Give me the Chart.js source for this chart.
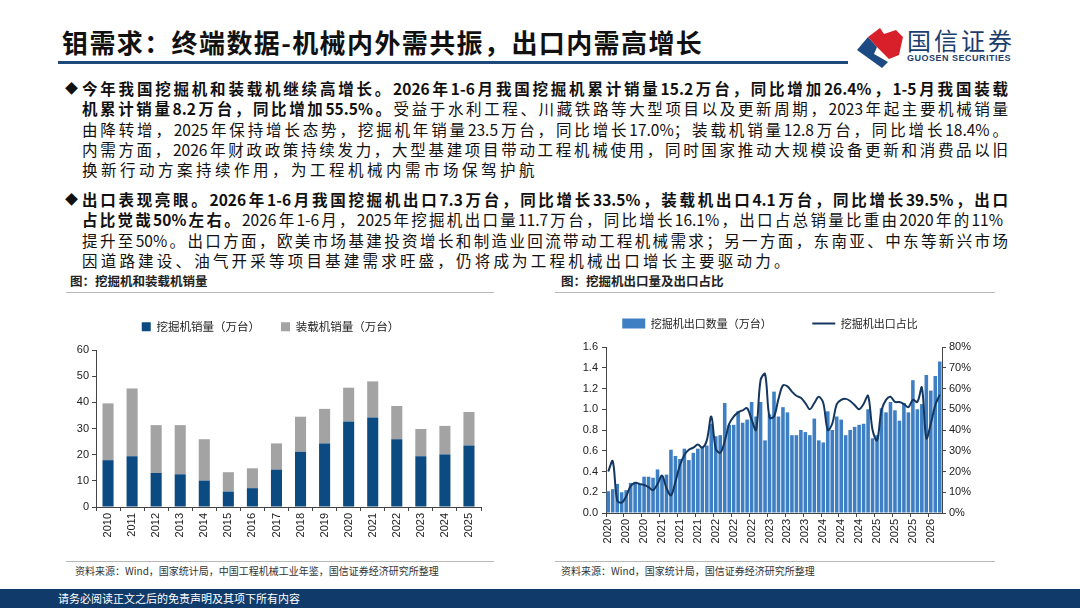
<!DOCTYPE html>
<html>
<head>
<meta charset="utf-8">
<script src="https://cdn.jsdelivr.net/npm/chart.js@4.4.1/dist/chart.umd.min.js"></script>
<style>
  html, body { margin: 0; padding: 0; background: #fff; }
  body { width: 1080px; height: 608px; position: relative; overflow: hidden;
         font-family: "Noto Sans CJK SC", "Noto Sans", sans-serif; color: #000; }
  .abs { position: absolute; }
  #title { left: 62px; top: 24px; font-size: 26px; font-weight: 700; letter-spacing: 1.4px; line-height: 36px; color: #111; }
  #rule { left: 58px; top: 61px; width: 790px; height: 3px; background: #1d4a7a; }
  #brand { left: 907px; top: 25px; font-size: 24px; color: #1c3d6e; line-height: 30px; letter-spacing: 3px; }
  #brandEn { left: 907px; top: 53px; font-size: 9px; font-weight: 700; color: #1c3d6e; letter-spacing: 0.5px; font-family: "Liberation Sans", sans-serif; }
  .ln { position: absolute; left: 82px; height: 20px; line-height: 20px; font-size: 15.5px; color: #111; }
  .full { width: 926px; text-align: justify; text-align-last: justify; }
  .part { letter-spacing: 3.5px; white-space: nowrap; }
  .bul { position: absolute; left: 65px; font-size: 13px; line-height: 20px; color: #111; }
  b { font-weight: 700; }
  .ctitle { font-size: 12.5px; font-weight: 700; color: #222; line-height: 16px; }
  .hr { height: 1px; background: #b8b8b8; }
  .src { font-size: 10px; color: #333; line-height: 14px; }
  #foot { left: 0; top: 589px; width: 1080px; height: 19px; background: #0f3a69; }
  #footTxt { left: 58px; top: 590px; font-size: 11px; color: #fff; line-height: 17px; }
  canvas { position: absolute; }
</style>
</head>
<body>
<div id="title" class="abs">钼需求：终端数据-机械内外需共振，出口内需高增长</div>
<div id="rule" class="abs"></div>
<svg class="abs" style="left:852px;top:24px" width="56" height="46" viewBox="852 24 56 46">
  <polygon points="857,50 868,37 877,47 874,54 888,62 882,68" fill="#1d4a82"/>
  <polygon points="868,37 880,28 884,34 896,30 903,37 899,55 889,59 877,47" fill="#d8202a"/>
</svg>
<div id="brand" class="abs">国信证券</div>
<div id="brandEn" class="abs">GUOSEN SECURITIES</div>

<div class="bul" style="top:78px">◆</div>
<div class="ln full" style="top:78px"><b>今年我国挖掘机和装载机继续高增长。2026年1-6月我国挖掘机累计销量15.2万台，同比增加26.4%，1-5月我国装载</b></div>
<div class="ln full" style="top:98px"><b>机累计销量8.2万台，同比增加55.5%。</b>受益于水利工程、川藏铁路等大型项目以及更新周期，2023年起主要机械销量</div>
<div class="ln full" style="top:119px">由降转增，2025年保持增长态势，挖掘机年销量23.5万台，同比增长17.0%；装载机销量12.8万台，同比增长18.4%。</div>
<div class="ln full" style="top:139px">内需方面，2026年财政政策持续发力，大型基建项目带动工程机械使用，同时国家推动大规模设备更新和消费品以旧</div>
<div class="ln part" style="top:159px">换新行动方案持续作用，为工程机械内需市场保驾护航</div>

<div class="bul" style="top:189px">◆</div>
<div class="ln full" style="top:189px"><b>出口表现亮眼。2026年1-6月我国挖掘机出口7.3万台，同比增长33.5%，装载机出口4.1万台，同比增长39.5%，出口</b></div>
<div class="ln full" style="top:209px;width:921px"><b>占比觉哉50%左右。</b>2026年1-6月，2025年挖掘机出口量11.7万台，同比增长16.1%，出口占总销量比重由2020年的11%</div>
<div class="ln full" style="top:230px">提升至50%。出口方面，欧美市场基建投资增长和制造业回流带动工程机械需求；另一方面，东南亚、中东等新兴市场</div>
<div class="ln part" style="top:250px;letter-spacing:3.2px">因道路建设、油气开采等项目基建需求旺盛，仍将成为工程机械出口增长主要驱动力。</div>

<div class="abs ctitle" style="left:70px;top:273px">图：挖掘机和装载机销量</div>
<div class="abs hr" style="left:66px;top:292px;width:428px"></div>
<div class="abs ctitle" style="left:561px;top:273px">图：挖掘机出口量及出口占比</div>
<div class="abs hr" style="left:555px;top:292px;width:440px"></div>

<canvas id="salesChart" width="440" height="248" style="left:60px;top:300px"></canvas>
<canvas id="exportChart" width="420" height="245" style="left:560px;top:305px"></canvas>

<div class="abs hr" style="left:66px;top:561px;width:428px"></div>
<div class="abs src" style="left:75px;top:564px">资料来源：Wind，国家统计局，中国工程机械工业年鉴，国信证券经济研究所整理</div>
<div class="abs hr" style="left:555px;top:561px;width:440px"></div>
<div class="abs src" style="left:561px;top:564px">资料来源：Wind，国家统计局，国信证券经济研究所整理</div>

<div id="foot" class="abs"></div>
<div id="footTxt" class="abs">请务必阅读正文之后的免责声明及其项下所有内容</div>

<script>
// 左图：挖掘机、装载机年销量（万台）
const salesYears = ['2010','2011','2012','2013','2014','2015','2016','2017','2018','2019','2020','2021','2022','2023','2024','2025'];
const excavatorSales = [17.9, 19.4, 13.0, 12.5, 10.1, 5.9, 7.2, 14.3, 21.1, 24.3, 32.7, 34.2, 25.9, 19.4, 20.1, 23.5];
const loaderSales = [21.7, 25.9, 18.3, 18.8, 15.8, 7.4, 7.6, 10.0, 13.4, 13.2, 12.9, 13.8, 12.7, 10.4, 10.9, 12.8];

// 右图：挖掘机月度出口量（万台）及出口占比（%）
const exportMonths = [
  '2020-01','2020-02','2020-03','2020-04','2020-05','2020-06','2020-07','2020-08','2020-09','2020-10','2020-11','2020-12',
  '2021-01','2021-02','2021-03','2021-04','2021-05','2021-06','2021-07','2021-08','2021-09','2021-10','2021-11','2021-12',
  '2022-01','2022-02','2022-03','2022-04','2022-05','2022-06','2022-07','2022-08','2022-09','2022-10','2022-11','2022-12',
  '2023-01','2023-02','2023-03','2023-04','2023-05','2023-06','2023-07','2023-08','2023-09','2023-10','2023-11','2023-12',
  '2024-01','2024-02','2024-03','2024-04','2024-05','2024-06','2024-07','2024-08','2024-09','2024-10','2024-11','2024-12',
  '2025-01','2025-02','2025-03','2025-04','2025-05','2025-06','2025-07','2025-08','2025-09','2025-10','2025-11','2025-12',
  '2026-01','2026-02','2026-03'
];
const exportTickYears = ['2020','2020','2020','2021','2021','2021','2022','2022','2022',
  '2023','2023','2023','2024','2024','2024','2025','2025','2025','2026'];
const exportQty = [
  0.21, 0.23, 0.28, 0.20, 0.22, 0.29, 0.30, 0.28, 0.35, 0.35, 0.34, 0.42,
  0.36, 0.37, 0.61, 0.55, 0.52, 0.62, 0.51, 0.58, 0.62, 0.64, 0.65, 0.86,
  0.74, 0.75, 1.06, 0.85, 0.85, 0.98, 0.87, 0.90, 1.07, 0.93, 1.07, 0.70,
  0.95, 1.17, 0.93, 1.02, 0.97, 0.75, 0.75, 0.80, 0.78, 0.75, 0.91, 0.70,
  0.68, 0.98, 0.80, 0.93, 0.90, 0.75, 0.80, 0.83, 0.85, 0.86, 1.00, 0.72,
  0.75, 1.01, 0.97, 1.07, 0.99, 0.89, 1.06, 0.97, 1.28, 1.00, 1.05, 1.33,
  1.18, 1.32, 1.46
];
const exportShare = [
  20, 25, 6, 5, 8, 13, 14.5, 14, 13.5, 12.5, 11, 14,
  18, 12, 8.5, 15, 23, 28, 30.5, 31.5, 33, 31.5, 35, 46.5,
  31, 29, 34.5, 43, 46.5, 48.5, 49.5, 50.5, 45, 40, 64, 67,
  46, 46.5, 55, 61.5, 61, 58.5, 56.5, 55.5, 53, 50, 53, 56,
  53, 40, 43, 52.5, 54.5, 55, 54, 52, 50, 52.5, 56.5, 40,
  35, 49.5, 54.5, 56, 53.5, 53.5, 52.5, 51, 54.5, 53.5, 60.5, 36,
  43, 52, 57
];

Chart.defaults.font.family = '"Liberation Sans", "Noto Sans CJK SC", sans-serif';
Chart.defaults.color = '#222';

const axisColor = '#444';
const legendFont = { family: '"Noto Sans CJK SC", sans-serif', size: 11 };

// 固定图例高度，让绘图区位置与原图一致
function fixedLegend(h) {
    return {
        id: 'fixedLegend',
        afterInit(chart) {
            const lg = chart.legend;
            if (!lg) return;
            const fit = lg.fit.bind(lg);
            lg.fit = function () { fit(); this.height = h; };
        }
    };
}

function fixWidth(w) { return scale => { scale.width = w; }; }
function fixHeight(h) { return scale => { scale.height = h; }; }

new Chart(document.getElementById('salesChart'), {
    type: 'bar',
    data: {
        labels: salesYears,
        datasets: [
            { label: '挖掘机销量（万台）', data: excavatorSales, backgroundColor: '#0c4a82',
              categoryPercentage: 0.5, barPercentage: 0.92 },
            { label: '装载机销量（万台）', data: loaderSales, backgroundColor: '#a3a3a3',
              categoryPercentage: 0.5, barPercentage: 0.92 }
        ]
    },
    options: {
        responsive: false,
        animation: false,
        layout: { padding: { right: 19, left: 0, top: 0, bottom: 0 } },
        plugins: {
            legend: { position: 'top', labels: { boxWidth: 9, boxHeight: 9, padding: 21,
                      font: { family: legendFont.family, size: 11.5 }, color: '#222' } },
            tooltip: { enabled: false }
        },
        scales: {
            x: {
                stacked: true,
                afterFit: fixHeight(41),
                grid: { drawOnChartArea: false, tickLength: 4, color: axisColor },
                border: { color: axisColor },
                ticks: { minRotation: 90, maxRotation: 90, font: { size: 11 }, padding: 2 }
            },
            y: {
                stacked: true, min: 0, max: 60,
                afterFit: fixWidth(36),
                grid: { drawOnChartArea: false, tickLength: 4, color: axisColor },
                border: { color: axisColor },
                ticks: { stepSize: 10, font: { size: 11 }, padding: 3 }
            }
        }
    },
    plugins: [fixedLegend(50)]
});

new Chart(document.getElementById('exportChart'), {
    data: {
        labels: exportMonths,
        datasets: [
            { type: 'line', label: '挖掘机出口占比', data: exportShare, yAxisID: 'y1',
              borderColor: '#15375f', borderWidth: 2, pointRadius: 0, tension: 0.35, order: 1 },
            { type: 'bar', label: '挖掘机出口数量（万台）\u3000\u3000\u3000', data: exportQty, yAxisID: 'y',
              backgroundColor: '#3d7fc2', categoryPercentage: 0.8, barPercentage: 1, order: 2 }
        ]
    },
    options: {
        responsive: false,
        animation: false,
        layout: { padding: 0 },
        plugins: {
            legend: {
                position: 'top',
                reverse: true,
                labels: {
                    usePointStyle: true, pointStyleWidth: 23, boxHeight: 10, padding: 13,
                    font: legendFont, color: '#222',
                    generateLabels(chart) {
                        const items = Chart.defaults.plugins.legend.labels.generateLabels(chart);
                        items.forEach(it => {
                            if (it.datasetIndex === 0) {
                                it.pointStyle = 'line'; it.lineWidth = 2; it.strokeStyle = '#15375f';
                            } else {
                                it.pointStyle = 'rect'; it.lineWidth = 0; it.fillStyle = '#3d7fc2';
                            }
                        });
                        return items;
                    }
                }
            },
            tooltip: { enabled: false }
        },
        scales: {
            x: {
                afterFit: fixHeight(37),
                grid: { drawOnChartArea: false, tickLength: 4,
                        color: ctx => (ctx.index % 4 === 0 ? axisColor : 'rgba(0,0,0,0)') },
                border: { color: axisColor },
                ticks: {
                    autoSkip: false, minRotation: 90, maxRotation: 90, font: { size: 11 }, padding: 2,
                    callback: (v, i) => (i % 4 === 0 ? exportTickYears[i / 4] : '')
                }
            },
            y: {
                position: 'left', min: 0, max: 1.6,
                afterFit: fixWidth(46),
                grid: { drawOnChartArea: false, tickLength: 4, color: axisColor },
                border: { color: axisColor },
                ticks: { stepSize: 0.2, font: { size: 11 }, padding: 4, callback: v => v.toFixed(1) }
            },
            y1: {
                position: 'right', min: 0, max: 80,
                afterFit: fixWidth(38),
                grid: { drawOnChartArea: false, tickLength: 4, color: axisColor },
                border: { color: axisColor },
                ticks: { stepSize: 10, font: { size: 11 }, padding: 3, callback: v => v + '%' }
            }
        }
    },
    plugins: [fixedLegend(42)]
});
</script>
</body>
</html>
